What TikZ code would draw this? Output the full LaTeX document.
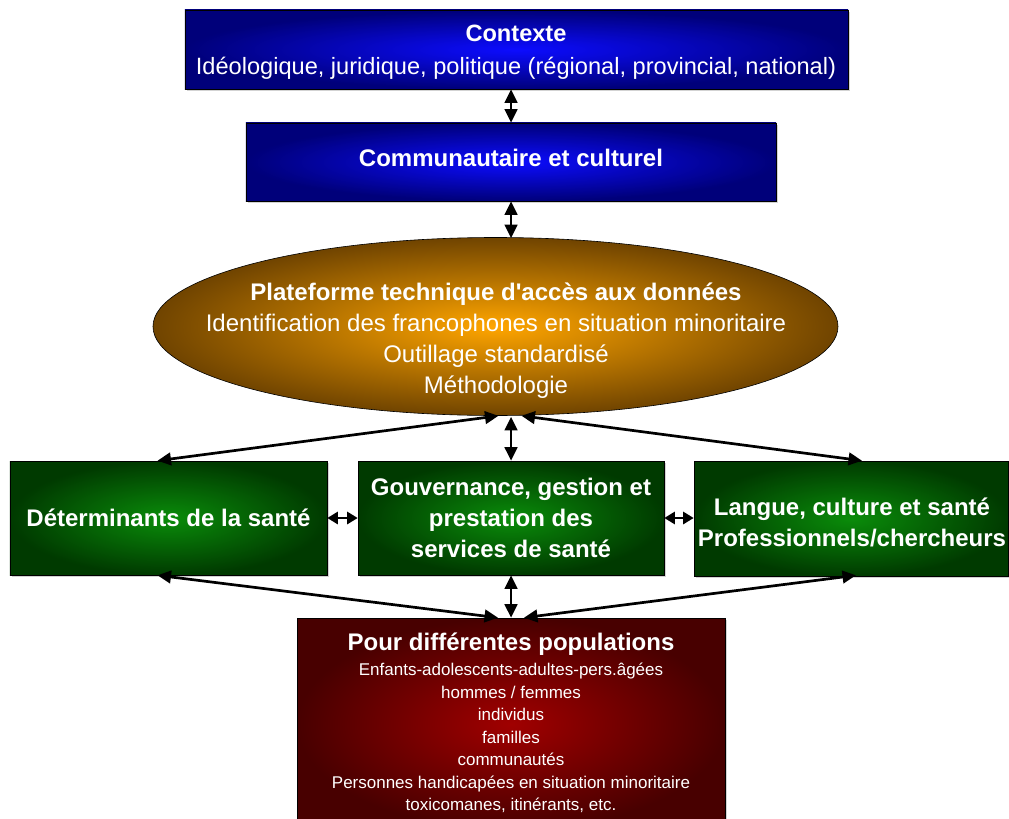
\documentclass[tikz,border=0pt]{standalone}
\usepackage{fontspec}
\setmainfont{Liberation Sans}[Ligatures=TeXOff]
\usetikzlibrary{arrows.meta,shapes.geometric,shadows,calc}
\definecolor{bluein}{HTML}{0C0CFF}
\definecolor{blueout}{HTML}{00007A}
\definecolor{greenin}{HTML}{0A8C0A}
\definecolor{greenout}{HTML}{003A00}
\definecolor{orangein}{HTML}{FFA500}
\definecolor{orangeout}{HTML}{704400}
\definecolor{redin}{HTML}{A00000}
\definecolor{redout}{HTML}{480000}
\begin{document}
\begin{tikzpicture}[x=1bp,y=-1bp,
  box/.style={rectangle, draw=black, line width=0.6bp, text=white, align=center, inner sep=0pt,
    drop shadow={shadow xshift=2bp, shadow yshift=-2bp, opacity=0.35}},
  bluebox/.style={box, inner color=bluein, outer color=blueout},
  greenbox/.style={box, inner color=greenin, outer color=greenout},
  redbox/.style={box, inner color=redin, outer color=redout},
  lbl/.style={text=white, align=center, inner sep=0pt},
  big/.style={font=\fontsize{23.6bp}{33bp}\selectfont},
  bigb/.style={font=\fontsize{24bp}{31bp}\selectfont\bfseries},
  tip/.tip={Triangle[length=13.5bp,width=12.5bp]},
  stip/.tip={Triangle[length=10.5bp,width=12bp]},
  arr/.style={tip-tip, line width=2.7bp},
  sarr/.style={stip-stip, line width=2.7bp}]
\useasboundingbox (0,0) rectangle (1009,819);

\node[bluebox, minimum width=663bp, minimum height=79bp] (ctx) at (516.5,49.5) {};
\node[lbl, big] (ctxtext) at (516,52.5)
  {\textbf{Contexte}\\Idéologique, juridique, politique (régional, provincial, national)};
\node[bluebox, minimum width=530bp, minimum height=78bp] (comm) at (511,162) {};
\node[lbl, bigb] (commtext) at (511,157.5) {Communautaire et culturel};

\node[ellipse, draw=black, line width=0.6bp, inner sep=0pt, minimum width=685bp, minimum height=178bp,
  inner color=orangein, outer color=orangeout] (plat) at (495.5,326.5) {};
\node[lbl, font=\fontsize{24bp}{31bp}\selectfont] (plattext) at (496,341)
  {\textbf{Plateforme technique d'accès aux données}\\Identification des francophones en situation minoritaire\\Outillage standardisé\\Méthodologie};

\node[greenbox, bigb, minimum width=317bp, minimum height=114bp] (det) at (168.5,518)
  {Déterminants de la santé};
\node[greenbox, bigb, minimum width=306bp, minimum height=114bp] (gouv) at (511,518)
  {Gouvernance, gestion et\\prestation des\\services de santé};
\node[greenbox, minimum width=314bp, minimum height=115bp] (lang) at (851,518.5) {};
\node[lbl, bigb] (langtext) at (852,522.5)
  {Langue, culture et santé\\Professionnels/chercheurs};

\node[redbox, minimum width=428bp, minimum height=212bp] (pop) at (511,724) {};
\node[lbl, font=\fontsize{24bp}{27bp}\selectfont\bfseries] (poptitle) at (511,644)
  {Pour différentes populations};
\node[lbl, font=\fontsize{17bp}{22.5bp}\selectfont] (popbody) at (511,738)
  {Enfants-adolescents-adultes-pers.âgées\\hommes / femmes\\individus\\familles\\communautés\\Personnes handicapées en situation minoritaire\\toxicomanes, itinérants, etc.};

\draw[arr] (ctx.south -| comm.north) -- (comm.north);
\draw[arr] (comm.south) -- ($(comm.south |- plat.north)+(0,1)$);

\draw[arr] ($(plat.south)+(3,0)$) -- ($(det.north)+(-11,0)$);
\draw[arr] ($(gouv.north |- plat.south)+(0,1)$) -- (gouv.north);
\draw[arr] ($(plat.south)+(26,0)$) -- ($(lang.north)+(11,0)$);

\draw[sarr] (det.east) -- (gouv.west);
\draw[sarr] (gouv.east) -- (gouv.east -| lang.west);

\draw[arr] ($(det.south)+(-11,0)$) -- ($(pop.north)+(-13,0)$);
\draw[arr] (gouv.south) -- (pop.north);
\draw[arr] ($(lang.south)+(5,-1)$) -- ($(pop.north)+(13,0)$);
\end{tikzpicture}
\end{document}
